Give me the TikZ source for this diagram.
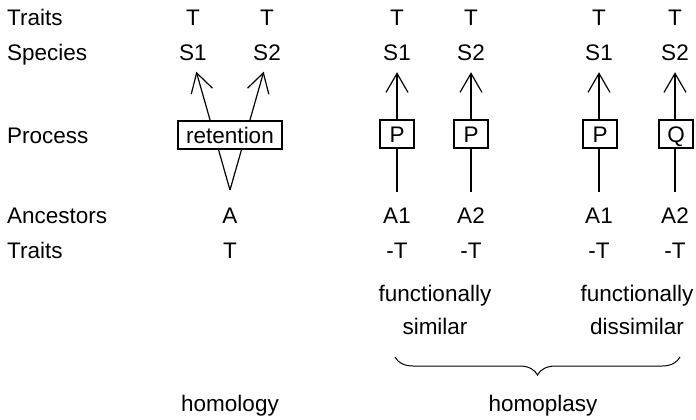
\documentclass[tikz,border=0pt]{standalone}
\usepackage{fontspec}
\setmainfont{Liberation Sans}
\usetikzlibrary{arrows.meta,decorations.pathreplacing}
\begin{document}
\begin{tikzpicture}[x=1pt,y=-1pt,
 txt/.style={inner sep=0pt, text height=16pt, text depth=0pt, font=\fontsize{22.5}{27}\selectfont},
 row/.style={txt, anchor=west},
 pbox/.style={txt, draw, line width=1.2pt, fill=white, minimum width=34pt, minimum height=28pt},
 conn/.style={line width=1.2pt, -{Straight Barb[length=19pt,width=22pt,line width=1.2pt]}},
 bracestyle/.style={line width=1pt, decorate, decoration={brace, amplitude=18pt, mirror}}
]
\useasboundingbox (0,0) rectangle (696,420);

% row labels
\node[row] (tr1) at (7,18) {Traits};
\node[row] (sp) at (7,52) {Species};
\node[row] (pr) at (7,135) {Process};
\node[row] (an) at (7,215) {Ancestors};
\node[row] (tr2) at (7,250) {Traits};

% homology
\node[txt] (hT1) at (193,18) {T};
\node[txt] (hT2) at (267,18) {T};
\node[txt] (hS1) at (193,52) {S1};
\node[txt] (hS2) at (267,52) {S2};
\node[txt] (hA) at (230,215) {A};
\node[txt] (hAT) at (230,250) {T};
\coordinate (apex) at (230,190);
\draw[conn, shorten >=12pt] (apex) -- (hS1.south);
\draw[conn, shorten >=12pt] (apex) -- (hS2.south);
\node[pbox, minimum width=104pt] (ret) at (230,135) {retention};
\node[txt] (homology) at (230,403) {homology};

% functionally similar
\node[txt] (sT1) at (397,18) {T};
\node[txt] (sT2) at (471,18) {T};
\node[txt] (sS1) at (397,52) {S1};
\node[txt] (sS2) at (471,52) {S2};
\node[txt] (sA1) at (397,215) {A1};
\node[txt] (sA2) at (471,215) {A2};
\node[txt] (sAT1) at (397,250) {-T};
\node[txt] (sAT2) at (471,250) {-T};
\draw[conn, shorten <=15pt, shorten >=12pt] (sA1.north) -- (sS1.south);
\draw[conn, shorten <=15pt, shorten >=12pt] (sA2.north) -- (sS2.south);
\node[pbox] (sP1) at (397,134) {P};
\node[pbox] (sP2) at (471,134) {P};
\node[txt] (fs1) at (435,293) {functionally};
\node[txt] (fs2) at (435,326) {similar};

% functionally dissimilar
\node[txt] (dT1) at (599,18) {T};
\node[txt] (dT2) at (675,18) {T};
\node[txt] (dS1) at (599,52) {S1};
\node[txt] (dS2) at (675,52) {S2};
\node[txt] (dA1) at (599,215) {A1};
\node[txt] (dA2) at (675,215) {A2};
\node[txt] (dAT1) at (599,250) {-T};
\node[txt] (dAT2) at (675,250) {-T};
\draw[conn, shorten <=15pt, shorten >=12pt] (dA1.north) -- (dS1.south);
\draw[conn, shorten <=15pt, shorten >=12pt] (dA2.north) -- (dS2.south);
\node[pbox] (dP1) at (600,134) {P};
\node[pbox] (dQ2) at (676,134) {Q};
\node[txt] (fd1) at (637,293) {functionally};
\node[txt] (fd2) at (637,326) {dissimilar};

% brace
\coordinate (bl) at (395,357);
\coordinate (br) at (680,357);
\draw[bracestyle] (bl) -- (br);
\node[txt] (homoplasy) at (543,403) {homoplasy};
\end{tikzpicture}
\end{document}
